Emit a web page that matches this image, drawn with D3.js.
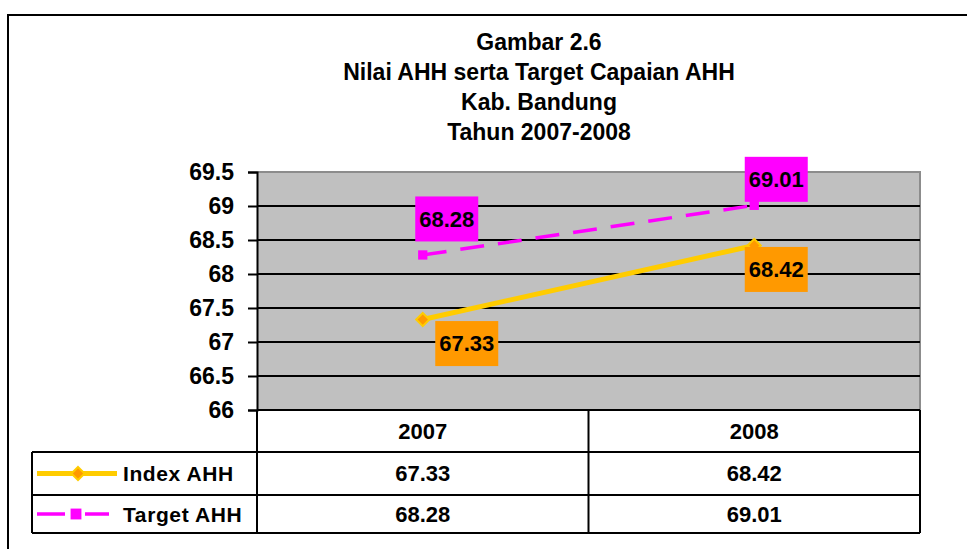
<!DOCTYPE html>
<html>
<head>
<meta charset="utf-8">
<script src="https://cdn.jsdelivr.net/npm/d3@7"></script>
<style>
  html, body { margin: 0; padding: 0; background: #fff; }
  svg { display: block; font-family: 'Liberation Sans', Arial, sans-serif; font-weight: bold; }
</style>
</head>
<body>
<svg width="967" height="549"></svg>
<script>
// chart data
const titleLines = ['Gambar 2.6', 'Nilai AHH serta Target Capaian AHH', 'Kab. Bandung', 'Tahun 2007-2008']
const years = ['2007', '2008']
const seriesNames = ['Index AHH', 'Target AHH']
const indexAHH = [67.33, 68.42]
const targetAHH = [68.28, 69.01]
const yTicks = [66, 66.5, 67, 67.5, 68, 68.5, 69, 69.5]

const svg = d3.select('svg')

// outer frame (continues past the right / bottom edge)
svg.append('rect')
  .attr('x', 8).attr('y', 15)
  .attr('width', 1000).attr('height', 600)
  .attr('fill', 'none').attr('stroke', '#000').attr('stroke-width', 2)

// title
svg.append('g').selectAll('text')
  .data(titleLines).join('text')
  .attr('x', 539)
  .attr('y', (d, i) => 50 + i * 30)
  .attr('text-anchor', 'middle')
  .attr('font-size', '23px')
  .text(d => d)

// scales
const x = d3.scaleBand().domain(years).range([257, 920])
const y = d3.scaleLinear().domain([66, 69.5]).range([410, 172])
const cx = d => x(d) + x.bandwidth() / 2

// plot area
svg.append('rect')
  .attr('x', x.range()[0]).attr('y', y(69.5))
  .attr('width', x.range()[1] - x.range()[0])
  .attr('height', y(66) - y(69.5))
  .attr('fill', '#c0c0c0')
svg.append('path')
  .attr('d', `M${x.range()[0]},${y(69.5)}H${x.range()[1]}V${y(66)}`)
  .attr('fill', 'none').attr('stroke', '#8c8c8c').attr('stroke-width', 2)

// gridlines
svg.append('g').selectAll('line')
  .data(yTicks.filter(d => d > 66 && d < 69.5)).join('line')
  .attr('x1', x.range()[0]).attr('x2', x.range()[1])
  .attr('y1', d => y(d)).attr('y2', d => y(d))
  .attr('stroke', '#000').attr('stroke-width', 2)

// y axis
const yAxis = svg.append('g')
  .attr('transform', `translate(${x.range()[0]},0)`)
  .call(d3.axisLeft(y).tickValues(yTicks).tickFormat(d => d).tickSize(9).tickPadding(14))
yAxis.select('.domain').attr('stroke', '#000').attr('stroke-width', 2)
yAxis.selectAll('.tick line').attr('stroke', '#000').attr('stroke-width', 2)
yAxis.selectAll('.tick text')
  .attr('font-family', "'Liberation Sans', Arial, sans-serif")
  .attr('font-size', '23px').attr('font-weight', 'bold').attr('fill', '#000')

// data table
const rowTops = [y(66), 452, 495, 533]
const tableLeft = 32
const tbl = svg.append('g').attr('stroke', '#000').attr('stroke-width', 2)
tbl.append('line').attr('x1', x.range()[0]).attr('x2', x.range()[1]).attr('y1', rowTops[0]).attr('y2', rowTops[0])
rowTops.slice(1).forEach(ry => {
  tbl.append('line').attr('x1', tableLeft).attr('x2', x.range()[1]).attr('y1', ry).attr('y2', ry)
})
tbl.append('line').attr('x1', tableLeft).attr('x2', tableLeft).attr('y1', rowTops[1]).attr('y2', rowTops[3])
;[x.range()[0], x(years[1]), x.range()[1]].forEach(vx => {
  tbl.append('line').attr('x1', vx).attr('x2', vx).attr('y1', rowTops[0]).attr('y2', rowTops[3])
})

const rowMid = i => (rowTops[i] + rowTops[i + 1]) / 2
svg.append('g').selectAll('text')
  .data(years).join('text')
  .attr('x', d => cx(d)).attr('y', rowMid(0))
  .attr('dy', '0.36em').attr('text-anchor', 'middle').attr('font-size', '22px')
  .text(d => d)

const series = [
  { name: seriesNames[0], values: indexAHH, color: '#ffcc00', dash: null, width: 5,
    keyDash: null, keyEnd: 117, keyMark: 78, offsets: [[44, 24], [22, 24]] },
  { name: seriesNames[1], values: targetAHH, color: '#ff00ff', dash: '24,14', width: 3.5,
    keyDash: '28,20,24,100', keyEnd: 109, keyMark: 76, offsets: [[24, -36], [22, -26]] }
]

series.forEach((s, si) => {
  // table values
  svg.append('g').selectAll('text')
    .data(s.values).join('text')
    .attr('x', (d, i) => cx(years[i])).attr('y', rowMid(si + 1))
    .attr('dy', '0.36em').attr('text-anchor', 'middle').attr('font-size', '22px')
    .text(d => d.toFixed(2))

  // legend key
  const ly = rowMid(si + 1)
  svg.append('line')
    .attr('x1', 37).attr('x2', s.keyEnd).attr('y1', ly).attr('y2', ly)
    .attr('stroke', s.color).attr('stroke-width', s.width)
    .attr('stroke-dasharray', s.keyDash)
  svg.append('text')
    .attr('x', 123).attr('y', ly).attr('dy', '0.36em')
    .attr('font-size', '21px').attr('letter-spacing', '0.6px')
    .text(s.name)

  // line
  const pts = s.values.map((v, i) => [cx(years[i]), y(v)])
  svg.append('path')
    .attr('d', d3.line()(pts))
    .attr('fill', 'none').attr('stroke', s.color).attr('stroke-width', s.width)
    .attr('stroke-dasharray', s.dash)
})

// markers
const drawMarker = (si, px, py, size) => {
  if (si === 0) {
    svg.append('path').attr('d', d3.symbol().type(d3.symbolDiamond2).size(size)())
      .attr('transform', `translate(${px},${py})`)
      .attr('fill', '#ff9900').attr('stroke', '#ffcc00').attr('stroke-width', 2)
  } else {
    svg.append('path').attr('d', d3.symbol().type(d3.symbolSquare2).size(size)())
      .attr('transform', `translate(${px},${py})`)
      .attr('fill', '#ff00ff')
  }
}
series.forEach((s, si) => {
  s.values.forEach((v, i) => drawMarker(si, cx(years[i]), y(v), 110))
  drawMarker(si, s.keyMark, rowMid(si + 1), si === 0 ? 110 : 150)
})

// data labels
series.forEach(s => {
  const g = svg.append('g').selectAll('g')
    .data(s.values).join('g')
    .attr('transform', (d, i) => `translate(${cx(years[i]) + s.offsets[i][0]},${y(d) + s.offsets[i][1]})`)
  g.append('rect')
    .attr('x', -31.5).attr('y', -22.5).attr('width', 63).attr('height', 45)
    .attr('fill', s.color === '#ffcc00' ? '#ff9900' : s.color)
  g.append('text')
    .attr('text-anchor', 'middle').attr('dy', '0.36em')
    .attr('font-size', '22px')
    .text(d => d.toFixed(2))
})
</script>
</body>
</html>
